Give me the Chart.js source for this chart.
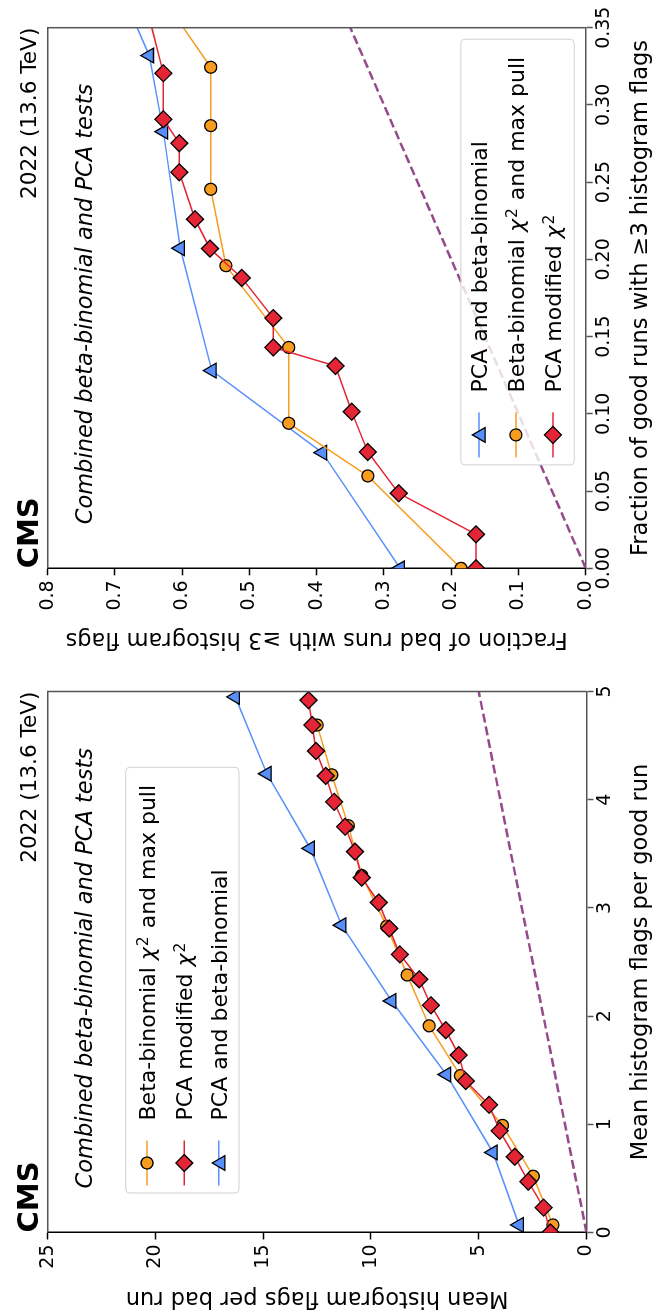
<!DOCTYPE html>
<html>
<head>
<meta charset="utf-8">
<script src="https://cdn.jsdelivr.net/npm/chart.js@4.4.1/dist/chart.umd.min.js"></script>
<style>
  html, body { margin: 0; padding: 0; background: #fff; width: 656px; height: 1313px; overflow: hidden; }
  /* the figure is laid out landscape and turned a quarter turn counter-clockwise */
  #figure { position: absolute; left: 0; top: 0; width: 1313px; height: 656px; transform-origin: 0 0; transform: translate(0, 1313px) rotate(-90deg); }
  #figure canvas { position: absolute; top: 0; }
</style>
</head>
<body>
<div id="figure">
  <canvas id="meanChart" width="640" height="656" style="left:0"></canvas>
  <canvas id="fracChart" width="673" height="656" style="left:640px"></canvas>
</div>
<script>
const COLORS = { blue: '#5790fc', orange: '#f89c20', red: '#e42536', purple: '#964a8b' };
const FONT = 'DejaVu Sans';

const LABEL_BETA = 'Beta-binomial χ² and max pull';
const LABEL_PCA_MOD = 'PCA modified χ²';
const LABEL_PCA_BETA = 'PCA and beta-binomial';

// Left panel: mean histogram flags per good run (x) vs per bad run (y)
const meanGoodBeta = [0.07, 0.52, 0.99, 1.45, 1.91, 2.38, 2.83, 3.30, 3.76, 4.23, 4.69];
const meanBadBeta = [1.56, 2.47, 3.90, 5.85, 7.30, 8.32, 9.27, 10.43, 11.05, 11.82, 12.5];
const meanGoodPcaMod = [0.0, 0.23, 0.47, 0.70, 0.94, 1.18, 1.40, 1.64, 1.87, 2.10, 2.34, 2.57, 2.81, 3.05, 3.28, 3.52, 3.75, 3.98, 4.22, 4.45, 4.69, 4.92];
const meanBadPcaMod = [1.67, 1.99, 2.70, 3.33, 4.03, 4.52, 5.60, 5.93, 6.53, 7.22, 7.76, 8.66, 9.15, 9.64, 10.43, 10.74, 11.2, 11.71, 12.1, 12.55, 12.72, 12.9];
const meanGoodPcaBeta = [0.07, 0.74, 1.46, 2.14, 2.84, 3.55, 4.24, 4.95];
const meanBadPcaBeta = [3.13, 4.34, 6.50, 9.04, 11.36, 12.82, 14.83, 16.30];
const meanDiagonal = [0, 5];

const meanXTicks = [0, 1, 2, 3, 4, 5];
const meanXLabels = ['0', '1', '2', '3', '4', '5'];
const meanYTicks = [0, 5, 10, 15, 20, 25];
const meanYLabels = ['0', '5', '10', '15', '20', '25'];

// Right panel: fraction of good runs (x) vs bad runs (y) with >= 3 flags
const fracGoodPcaBeta = [0.0, 0.0749, 0.128, 0.2072, 0.2827, 0.332, 0.36];
const fracBadPcaBeta = [0.276, 0.3917, 0.556, 0.603, 0.628, 0.649, 0.677];
const fracGoodBeta = [0.0, 0.0598, 0.0939, 0.143, 0.1959, 0.2454, 0.2866, 0.3244, 0.36];
const fracBadBeta = [0.1854, 0.324, 0.4416, 0.4416, 0.535, 0.5576, 0.5576, 0.5576, 0.614];
const fracGoodPcaMod = [0.0, 0.022, 0.0486, 0.0753, 0.1014, 0.131, 0.143, 0.162, 0.188, 0.207, 0.226, 0.2564, 0.2752, 0.2907, 0.3205, 0.36];
const fracBadPcaMod = [0.163, 0.163, 0.278, 0.324, 0.348, 0.372, 0.4645, 0.4645, 0.5115, 0.5587, 0.581, 0.6043, 0.6043, 0.628, 0.628, 0.651];
const fracDiagonal = [0, 0.35];

const fracXTicks = [0, 0.05, 0.10, 0.15, 0.20, 0.25, 0.30, 0.35];
const fracXLabels = ['0.00', '0.05', '0.10', '0.15', '0.20', '0.25', '0.30', '0.35'];
const fracYTicks = [0, 0.1, 0.2, 0.3, 0.4, 0.5, 0.6, 0.7, 0.8];
const fracYLabels = ['0.0', '0.1', '0.2', '0.3', '0.4', '0.5', '0.6', '0.7', '0.8'];

function points(xs, ys) {
  return xs.map((x, i) => ({ x: x, y: ys[i] }));
}

function series(label, xs, ys, color, style, radius, order) {
  return {
    label: label,
    data: points(xs, ys),
    showLine: true,
    borderColor: color,
    borderWidth: 1.5,
    backgroundColor: color,
    pointBackgroundColor: color,
    pointBorderColor: '#000',
    pointBorderWidth: 1.3,
    pointStyle: style,
    pointRadius: radius,
    pointHoverRadius: radius,
    order: order
  };
}

function diagonal(vals) {
  return {
    data: points(vals, vals),
    showLine: true,
    borderColor: COLORS.purple,
    borderWidth: 2.5,
    borderDash: [9, 4],
    pointRadius: 0,
    order: 10
  };
}

function axisOptions(o) {
  return {
    type: 'linear',
    position: o.position,
    min: o.min,
    max: o.max,
    afterBuildTicks: s => { s.ticks = o.ticks.map(v => ({ value: v })); },
    afterFit: s => {
      if (o.position === 'left') s.width = o.size; else s.height = o.size;
    },
    ticks: {
      autoSkip: false, maxRotation: 0, padding: o.tickPad, color: '#000',
      font: { family: FONT, size: 19 },
      callback: (v, i) => o.labels[i]
    },
    grid: { drawOnChartArea: false, drawTicks: true, tickLength: 7, tickWidth: 1.5, tickColor: o.color },
    border: { display: true, color: o.color, width: 1.5 },
    title: { display: true, text: o.title, color: '#000', font: { family: FONT, size: 22.5 }, padding: o.titlePad }
  };
}

function drawLabel(ctx, text, x, y) {
  const parts = text.split('χ²');
  ctx.textAlign = 'left';
  ctx.textBaseline = 'alphabetic';
  ctx.fillStyle = '#000';
  parts.forEach((p, i) => {
    ctx.font = '22px ' + FONT;
    ctx.fillText(p, x, y);
    x += ctx.measureText(p).width;
    if (i < parts.length - 1) {
      ctx.font = 'italic 22px ' + FONT;
      ctx.fillText('χ', x, y);
      x += ctx.measureText('χ').width + 1;
      ctx.font = '15.5px ' + FONT;
      ctx.fillText('2', x, y - 7);
      x += ctx.measureText('2').width + 1;
    }
  });
}

function drawLegend(ctx, a, legend) {
  const w = 425.7, h = 113.3, r = 4;
  const x0 = legend.topLeft ? a.left + 39.5 : a.right - 11.5 - w;
  const y0 = legend.topLeft ? a.top + 78 : a.bottom - 11.5 - h;
  ctx.beginPath();
  ctx.moveTo(x0 + r, y0);
  ctx.arcTo(x0 + w, y0, x0 + w, y0 + h, r);
  ctx.arcTo(x0 + w, y0 + h, x0, y0 + h, r);
  ctx.arcTo(x0, y0 + h, x0, y0, r);
  ctx.arcTo(x0, y0, x0 + w, y0, r);
  ctx.closePath();
  ctx.fillStyle = 'rgba(255,255,255,0.8)';
  ctx.fill();
  ctx.strokeStyle = '#d0d0d0';
  ctx.lineWidth = 1;
  ctx.stroke();

  legend.rows.forEach((row, i) => {
    const cy = y0 + legend.offsets[i];
    ctx.strokeStyle = row.color;
    ctx.lineWidth = 1.5;
    ctx.beginPath();
    ctx.moveTo(x0 + 7.5, cy);
    ctx.lineTo(x0 + 52.5, cy);
    ctx.stroke();
    ctx.fillStyle = row.color;
    ctx.strokeStyle = '#000';
    ctx.lineWidth = 1.3;
    const my = row.style === 'triangle' ? cy + 2 : cy;
    Chart.helpers.drawPoint(ctx, { pointStyle: row.style, radius: row.radius, borderWidth: 1.3, rotation: 0 }, x0 + 30, my);
    drawLabel(ctx, row.label, x0 + 72.5, cy + 8);
  });
}

function cmsDecor(legend) {
  return {
    id: 'cmsDecor',
    afterDraw(chart) {
      const ctx = chart.ctx, a = chart.chartArea;
      ctx.save();
      ctx.strokeStyle = '#555';
      ctx.lineWidth = 1.5;
      ctx.beginPath();
      ctx.moveTo(a.left, a.top);
      ctx.lineTo(a.right, a.top);
      ctx.lineTo(a.right, a.bottom);
      ctx.stroke();

      ctx.fillStyle = '#000';
      ctx.textBaseline = 'alphabetic';
      ctx.textAlign = 'left';
      ctx.font = 'bold 29px ' + FONT;
      ctx.fillText('CMS', a.left, a.top - 10);
      ctx.textAlign = 'right';
      ctx.font = '21.6px ' + FONT;
      ctx.fillText('2022 (13.6 TeV)', a.right, a.top - 11.5);
      ctx.textAlign = 'left';
      ctx.font = 'italic 22.5px ' + FONT;
      ctx.fillText('Combined beta-binomial and PCA tests', a.left + 44, a.top + 44.5);

      drawLegend(ctx, a, legend);
      ctx.restore();
    }
  };
}

function makeChart(id, datasets, scales, padding, legend) {
  new Chart(document.getElementById(id), {
    type: 'scatter',
    data: { datasets: datasets },
    options: {
      responsive: false,
      animation: false,
      events: [],
      layout: { padding: padding },
      plugins: { legend: { display: false }, tooltip: { enabled: false } },
      scales: scales
    },
    plugins: [cmsDecor(legend)]
  });
}

makeChart('meanChart', [
  series(LABEL_BETA, meanGoodBeta, meanBadBeta, COLORS.orange, 'circle', 6, 3),
  series(LABEL_PCA_MOD, meanGoodPcaMod, meanBadPcaMod, COLORS.red, 'rectRot', 8.5, 2),
  series(LABEL_PCA_BETA, meanGoodPcaBeta, meanBadPcaBeta, COLORS.blue, 'triangle', 8.5, 1),
  diagonal(meanDiagonal)
], {
  x: axisOptions({ position: 'bottom', min: 0, max: 5, ticks: meanXTicks, labels: meanXLabels, size: 69.5, tickPad: 0, color: '#555',
    title: 'Mean histogram flags per good run', titlePad: { top: 0, bottom: 1.5 } }),
  y: axisOptions({ position: 'left', min: 0, max: 25, ticks: meanYTicks, labels: meanYLabels, size: 80.5, tickPad: 5, color: '#000',
    title: 'Mean histogram flags per bad run', titlePad: { top: 2, bottom: 0 } })
}, { top: 47.7, right: 18.5, left: 0, bottom: 0 }, {
  topLeft: true,
  offsets: [21.3, 58.6, 93],
  rows: [
    { label: LABEL_BETA, color: COLORS.orange, style: 'circle', radius: 6 },
    { label: LABEL_PCA_MOD, color: COLORS.red, style: 'rectRot', radius: 8.5 },
    { label: LABEL_PCA_BETA, color: COLORS.blue, style: 'triangle', radius: 8.5 }
  ]
});

makeChart('fracChart', [
  series(LABEL_PCA_BETA, fracGoodPcaBeta, fracBadPcaBeta, COLORS.blue, 'triangle', 8.5, 3),
  series(LABEL_BETA, fracGoodBeta, fracBadBeta, COLORS.orange, 'circle', 6, 2),
  series(LABEL_PCA_MOD, fracGoodPcaMod, fracBadPcaMod, COLORS.red, 'rectRot', 8.5, 1),
  diagonal(fracDiagonal)
], {
  x: axisOptions({ position: 'bottom', min: 0, max: 0.35, ticks: fracXTicks, labels: fracXLabels, size: 70.3, tickPad: 0, color: '#555',
    title: 'Fraction of good runs with ≥3 histogram flags', titlePad: { top: 0, bottom: 1.5 } }),
  y: axisOptions({ position: 'left', min: 0, max: 0.8, ticks: fracYTicks, labels: fracYLabels, size: 104.7, tickPad: 5, color: '#000',
    title: 'Fraction of bad runs with ≥3 histogram flags', titlePad: { top: 20.5, bottom: 0 } })
}, { top: 47.7, right: 27.7, left: 0, bottom: 0 }, {
  topLeft: false,
  offsets: [18, 55, 92],
  rows: [
    { label: LABEL_PCA_BETA, color: COLORS.blue, style: 'triangle', radius: 8.5 },
    { label: LABEL_BETA, color: COLORS.orange, style: 'circle', radius: 6 },
    { label: LABEL_PCA_MOD, color: COLORS.red, style: 'rectRot', radius: 8.5 }
  ]
});
</script>
</body>
</html>
